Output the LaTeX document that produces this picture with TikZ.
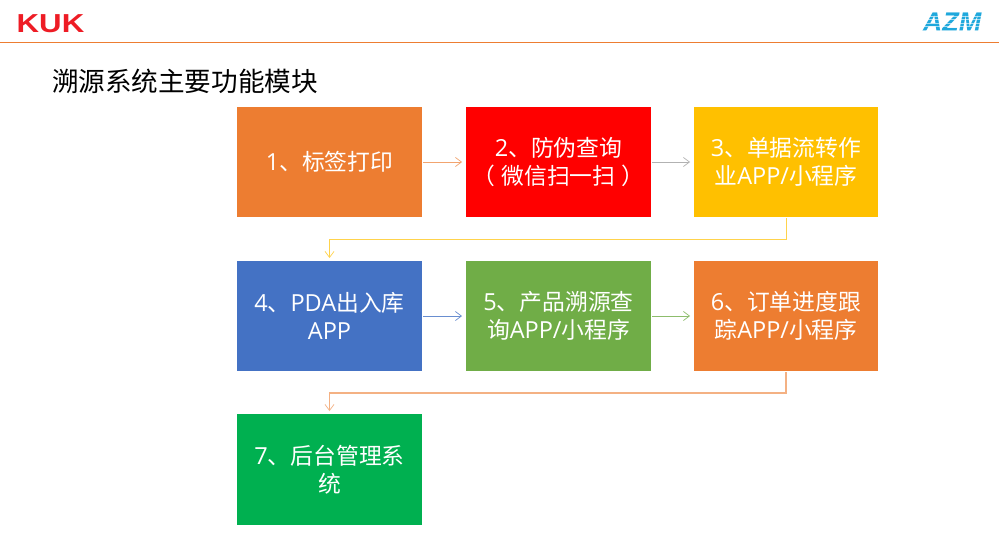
\documentclass[tikz,border=0pt]{standalone}
\usepackage{fontspec}
\setmainfont{Open Sans}
\newfontfamily\cjk{Noto Sans CJK SC}[Scale=0.97]
\newfontfamily\titlecjk{Noto Sans CJK SC}
\newfontfamily\logofont{Liberation Sans}
\usetikzlibrary{arrows.meta,calc}
\definecolor{orangeB}{HTML}{ED7D31}
\definecolor{redB}{HTML}{FF0000}
\definecolor{goldB}{HTML}{FFC000}
\definecolor{blueB}{HTML}{4472C4}
\definecolor{greenB}{HTML}{70AD47}
\definecolor{emeraldB}{HTML}{00B050}
\definecolor{kukred}{HTML}{EE1C25}
\definecolor{azmblue}{HTML}{1FA8DC}
\tikzset{
  x=1pt,y=-1pt,
  modbox/.style={minimum width=185pt,minimum height=110pt,inner sep=0pt,outer sep=0pt,
    text=white,align=center,font=\fontsize{23.5}{27.5}\selectfont},
  link/.style={line width=1pt,-{Straight Barb[length=6pt,width=9pt,line width=.7pt]}}
}
\begin{document}
\begin{tikzpicture}
\useasboundingbox (0,0) rectangle (999,549);
\fill[white] (0,0) rectangle (999,549);
\coordinate (hl) at (0,42.5);
\coordinate (hr) at (999,42.5);
\draw[orangeB,line width=1pt] (hl) -- (hr);
% logos
\node[anchor=center,inner sep=0pt,text=kukred,font=\logofont\bfseries\fontsize{26}{26}\selectfont,xscale=1.2] (kuk) at (50.5,23.5) {KUK};
\node[anchor=center,inner sep=0pt,text=azmblue,font=\logofont\bfseries\itshape\fontsize{27}{27}\selectfont] (azm) at (952,22.5) {AZM};
\foreach \y in {15.5,19,22.5,26,29.5}{\fill[white,opacity=.6] (920,\y) rectangle (985,\y+1);}
% title
\node[anchor=center,inner sep=0pt,font=\titlecjk\fontsize{26.6}{30}\selectfont] (title) at (185,81) {溯源系统主要功能模块};
% boxes
\node[modbox,fill=orangeB,anchor=north west,minimum width=185pt] (m1) at (237,107) {1{\cjk 、标签打印}};
\node[modbox,fill=redB,anchor=north west,minimum width=185pt] (m2) at (466,107) {2{\cjk 、防伪查询}\\[.5pt]{\cjk （\kern6pt 微信扫一扫\kern6pt ）}};
\node[modbox,fill=goldB,anchor=north west,minimum width=184pt] (m3) at (694,107) {3{\cjk 、单据流转作}\\[.5pt]{\cjk 业}APP/{\cjk 小程序}};
\node[modbox,fill=blueB,anchor=north west,minimum width=185pt] (m4) at (237,261) {4{\cjk 、}PDA{\cjk 出入库}\\[.5pt]APP};
\node[modbox,fill=greenB,anchor=north west,minimum width=185pt] (m5) at (466,261) {5{\cjk 、产品溯源查}\\[.5pt]{\cjk 询}APP/{\cjk 小程序}};
\node[modbox,fill=orangeB,anchor=north west,minimum width=184pt] (m6) at (694,261) {6{\cjk 、订单进度跟}\\[.5pt]{\cjk 踪}APP/{\cjk 小程序}};
\node[modbox,fill=emeraldB,anchor=north west,minimum width=185pt,minimum height=111pt] (m7) at (237,414) {7{\cjk 、后台管理系}\\[.5pt]{\cjk 统}};
% connectors
\draw[link,color=orangeB!70!white] ([xshift=1pt]m1.east) -- ([xshift=-4pt]m2.west);
\draw[link,color=black!30] ([xshift=1pt]m2.east) -- ([xshift=-4pt]m3.west);
\draw[link,color=blueB!80!white] ([xshift=1pt]m4.east) -- ([xshift=-4pt]m5.west);
\draw[link,color=greenB!80!white] ([xshift=1pt]m5.east) -- ([xshift=-4pt]m6.west);
\draw[link,color=goldB!70!white] ([yshift=-1pt]m3.south) -- ++(0,21.5) -| ([yshift=3pt]m4.north);
\draw[link,color=orangeB!60!white,line width=1.3pt] ([yshift=-1pt]m6.south) -- ++(0,21) -| ([yshift=3pt]m7.north);
\end{tikzpicture}
\end{document}
